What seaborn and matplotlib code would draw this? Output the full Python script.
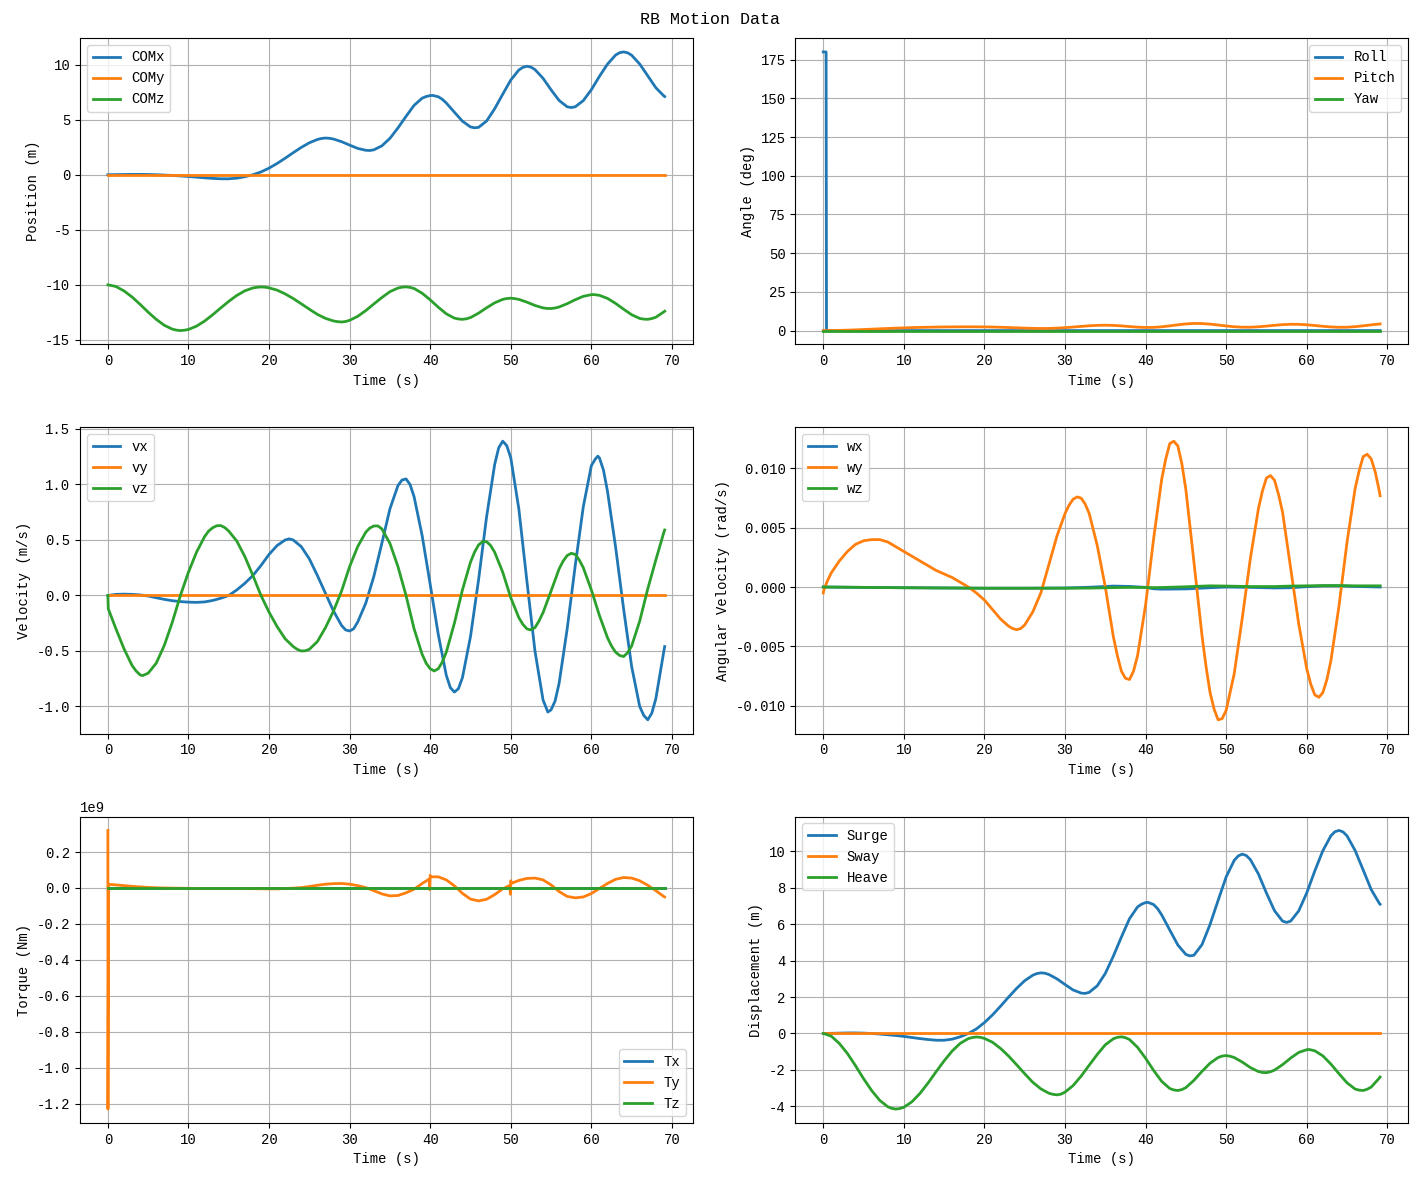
import numpy as np
import pandas as pd
import matplotlib
matplotlib.use("Agg")
import matplotlib.pyplot as plt
import seaborn as sns

# ---------------- data ----------------
# common time base (s)
time_s = np.r_[0.0, 0.05, np.arange(1, 70), 69.1]

com_x = [0, 0, 0.01, 0.02, 0.03, 0.03, 0.02, 0.0, -0.03, -0.07, -0.11, -0.16, -0.22, -0.28,
         -0.33, -0.37, -0.37, -0.31, -0.18, 0.0, 0.25, 0.6, 1.02, 1.5, 2.0, 2.48, 2.9, 3.2,
         3.33, 3.24, 3.0, 2.69, 2.39, 2.22, 2.26, 2.62, 3.3, 4.25, 5.3, 6.3, 6.95, 7.19, 7.08,
         6.51, 5.68, 4.86, 4.34, 4.3, 4.88, 5.99, 7.31, 8.6, 9.51, 9.85, 9.55, 8.76, 7.71,
         6.74, 6.17, 6.17, 6.73, 7.72, 8.93, 10.04, 10.86, 11.15, 10.85, 10.05, 8.98, 7.9,
         7.15, 7.1]
com_x_peak_t = [26.5, 27.5, 32.5, 39.5, 40.3, 41.5, 45.5, 51.5, 52.5, 57.5, 63.5, 64.5]
com_x_peak_v = [3.29, 3.31, 2.2, 7.1, 7.2, 6.85, 4.26, 9.75, 9.77, 6.1, 11.08, 11.07]
com_y = [0.0] * 72
com_z = [-10, -10.0, -10.15, -10.55, -11.1, -11.77, -12.48, -13.13, -13.67, -14.02, -14.15,
         -14.05, -13.75, -13.29, -12.72, -12.1, -11.5, -10.96, -10.54, -10.28, -10.19, -10.27,
         -10.48, -10.82, -11.24, -11.72, -12.21, -12.68, -13.04, -13.28, -13.37, -13.22, -12.86,
         -12.34, -11.74, -11.15, -10.62, -10.29, -10.18, -10.33, -10.76, -11.36, -12.03, -12.63,
         -13.02, -13.13, -12.97, -12.57, -12.08, -11.63, -11.32, -11.21, -11.32, -11.57, -11.87,
         -12.09, -12.15, -12.01, -11.71, -11.35, -11.04, -10.89, -10.95, -11.23, -11.68, -12.21,
         -12.71, -13.05, -13.13, -12.94, -12.45, -12.39]
com_z_peak_t = [8.5, 9.5, 18.5, 19.5, 28.5, 29.5, 36.5, 37.5, 43.5, 44.5, 49.5, 50.5, 54.5,
                55.5, 60.3, 66.5, 67.5]
com_z_peak_v = [-14.11, -14.12, -10.22, -10.21, -13.34, -13.33, -10.21, -10.23, -13.1, -13.08,
                -11.24, -11.25, -12.14, -12.1, -10.88, -13.11, -13.06]

vel_x = [0, 0.0, 0.01, 0.012, 0.01, 0.005, -0.005, -0.02, -0.035, -0.047, -0.055, -0.06, -0.062,
         -0.058, -0.045, -0.025, 0.0, 0.05, 0.11, 0.18, 0.27, 0.37, 0.45, 0.5, 0.5, 0.44, 0.33,
         0.18, 0.02, -0.14, -0.27, -0.32, -0.24, -0.07, 0.17, 0.47, 0.78, 0.99, 1.05, 0.89, 0.54,
         0.1, -0.35, -0.72, -0.87, -0.74, -0.37, 0.14, 0.71, 1.18, 1.39, 1.24, 0.78, 0.13, -0.5,
         -0.94, -1.03, -0.79, -0.3, 0.27, 0.8, 1.17, 1.24, 0.94, 0.44, -0.12, -0.64, -1.0, -1.12,
         -0.93, -0.5, -0.46]
vel_x_peak_t = [22.5, 29.5, 30.5, 36.5, 37.5, 42.5, 43.5, 48.5, 49.5, 54.6, 55.5, 60.5, 60.8,
                61.5, 66.5, 67.5]
vel_x_peak_v = [0.51, -0.31, -0.30, 1.04, 1.0, -0.83, -0.84, 1.33, 1.35, -1.05, -0.95, 1.23,
                1.255, 1.13, -1.08, -1.06]
vel_y = [0.0] * 72
vel_z = [0, -0.12, -0.3, -0.48, -0.63, -0.715, -0.70, -0.61, -0.45, -0.24, 0.0, 0.21, 0.39, 0.53,
         0.61, 0.63, 0.58, 0.49, 0.35, 0.18, 0.0, -0.15, -0.28, -0.39, -0.46, -0.5, -0.485, -0.415,
         -0.29, -0.14, 0.04, 0.26, 0.44, 0.57, 0.626, 0.60, 0.47, 0.26, 0.0, -0.30, -0.53, -0.66,
         -0.66, -0.51, -0.25, 0.05, 0.30, 0.455, 0.485, 0.39, 0.21, -0.02, -0.2, -0.3, -0.29,
         -0.155, 0.04, 0.24, 0.36, 0.37, 0.25, 0.05, -0.18, -0.38, -0.51, -0.55, -0.455, -0.23,
         0.06, 0.32, 0.57, 0.59]
vel_z_peak_t = [3.5, 4.3, 12.5, 13.5, 14.5, 23.5, 24.5, 32.5, 33.5, 39.5, 40.5, 41.5, 45.5,
                46.5, 47.5, 51.5, 52.4, 53.5, 56.5, 57.5, 58.5, 62.5, 63.5, 64.5]
vel_z_peak_v = [-0.68, -0.722, 0.58, 0.628, 0.612, -0.485, -0.498, 0.607, 0.627, -0.61, -0.68,
                -0.6, 0.39, 0.485, 0.45, -0.26, -0.31, -0.23, 0.31, 0.38, 0.32, -0.455, -0.54,
                -0.515]

pitch_deg = [0, 0.0, 0.02, 0.12, 0.27, 0.46, 0.67, 0.90, 1.13, 1.35, 1.56, 1.74, 1.90, 2.04, 2.15,
             2.24, 2.32, 2.37, 2.41, 2.42, 2.40, 2.36, 2.27, 2.14, 1.97, 1.77, 1.58, 1.42, 1.35,
             1.39, 1.57, 1.87, 2.26, 2.69, 3.08, 3.36, 3.46, 3.34, 3.01, 2.59, 2.20, 1.99, 2.06,
             2.44, 3.04, 3.72, 4.30, 4.59, 4.53, 4.16, 3.59, 2.97, 2.46, 2.18, 2.17, 2.43, 2.88,
             3.40, 3.84, 4.06, 4.02, 3.73, 3.28, 2.76, 2.33, 2.11, 2.17, 2.52, 3.07, 3.69, 4.23,
             4.28]
yaw_deg = [0.0] * 72
roll_time = [0.0, 0.35, 0.4, 69.1]
roll_deg = [180.0, 180.0, 0.0, 0.0]

omega_y = [-0.0005, -0.0003, 0.0012, 0.0022, 0.003, 0.0036, 0.0039, 0.004, 0.004, 0.0038, 0.0034,
           0.003, 0.0026, 0.0022, 0.0018, 0.0014, 0.0011, 0.0008, 0.0004, 0.0, -0.0005, -0.0011,
           -0.0019, -0.0027, -0.0033, -0.0036, -0.0032, -0.0021, -0.0005, 0.0019, 0.0043, 0.0062,
           0.0074, 0.0075, 0.0062, 0.0035, 0.0, -0.0042, -0.0071, -0.0078, -0.0058, -0.0015,
           0.0041, 0.0091, 0.0121, 0.0119, 0.0082, 0.0021, -0.0041, -0.0089, -0.0112, -0.0104,
           -0.0073, -0.0026, 0.0024, 0.0066, 0.0092, 0.009, 0.0063, 0.0016, -0.0031, -0.0069,
           -0.0091, -0.0089, -0.0062, -0.0016, 0.0038, 0.0083, 0.011, 0.0108, 0.0081, 0.0077]
omega_y_peak_t = [0.5, 23.5, 24.5, 30.5, 31.5, 32.5, 36.5, 37.5, 38.5, 42.5, 43.5, 44.5, 47.5,
                  48.5, 49.5, 54.5, 55.5, 56.5, 60.5, 61.5, 62.5, 66.5, 67.5, 68.5]
omega_y_peak_v = [0.0005, -0.0035, -0.0035, 0.0069, 0.0076, 0.0070, -0.0058, -0.0077, -0.0071,
                  0.0108, 0.0123, 0.0104, -0.0067, -0.0103, -0.0111, 0.0081, 0.0094, 0.0078,
                  -0.0082, -0.0093, -0.0078, 0.0098, 0.0112, 0.0097]
omega_small_time = [0, 5, 10, 15, 20, 25, 30, 33, 36, 38, 40, 41, 42, 45, 48, 50, 53, 56, 58, 60,
                    62, 64, 66, 69.1]
omega_x = [0, -0.00003, -0.00006, -0.00008, -0.0001, -0.0001, -0.00008, -0.00002, 0.00008,
           0.00005, -0.00003, -0.00015, -0.00018, -0.00016, -0.00006, 0.0, -0.00003, -0.00008,
           -0.00006, 0.00003, 0.0001, 0.0001, 0.00005, 0.0]
omega_z = [0, -0.00003, -0.00006, -0.00008, -0.0001, -0.0001, -0.0001, -0.00009, -0.00005,
           -0.00003, -0.00004, -0.00005, -0.00004, 0.00002, 0.0001, 0.00008, 0.00004, 0.00004,
           0.00008, 0.0001, 0.00012, 0.00012, 0.0001, 0.0001]

torque_time = [0, 0.01, 0.1, 1, 2, 3, 4, 5, 6, 7, 8, 10, 12, 14, 16, 18, 20, 21, 22, 23, 24, 25,
               26, 27, 28, 29, 30, 31, 32, 33, 34, 35, 36, 37, 38, 39, 39.9, 39.95, 40.0, 40.1,
               41, 42, 43, 44, 45, 46, 47, 48, 49, 49.9, 49.95, 50.0, 50.1, 51, 52, 53, 54, 55,
               56, 57, 58, 59, 60, 61, 62, 63, 64, 65, 66, 67, 68, 69, 69.1]
torque_y_1e9 = [0.32, -1.23, 0.02, 0.017, 0.013, 0.009, 0.006, 0.003, 0.001, 0.0, -0.001, -0.002,
                -0.003, -0.003, -0.003, -0.004, -0.005, -0.005, -0.003, -0.001, 0.002, 0.008,
                0.015, 0.021, 0.024, 0.025, 0.021, 0.013, 0.002, -0.015, -0.033, -0.044, -0.042,
                -0.027, -0.007, 0.025, 0.05, -0.01, 0.07, 0.062, 0.062, 0.045, 0.012, -0.03,
                -0.062, -0.072, -0.063, -0.037, -0.005, 0.015, -0.035, 0.04, 0.026, 0.042, 0.053,
                0.055, 0.045, 0.017, -0.02, -0.047, -0.055, -0.05, -0.031, -0.003, 0.025, 0.048,
                0.058, 0.055, 0.04, 0.015, -0.015, -0.048, -0.05]
torque_x_1e9 = [0.0] * len(torque_time)
torque_z_1e9 = [0.0] * len(torque_time)


def merged(base_t, base_v, extra_t, extra_v):
    """Combine the regular samples with the extra samples read at the extrema."""
    t = np.concatenate([np.asarray(base_t, float), np.asarray(extra_t, float)])
    v = np.concatenate([np.asarray(base_v, float), np.asarray(extra_v, float)])
    order = np.argsort(t, kind="stable")
    return t[order], v[order]


cx_t, cx_v = merged(time_s, com_x, com_x_peak_t, com_x_peak_v)
cz_t, cz_v = merged(time_s, com_z, com_z_peak_t, com_z_peak_v)
vx_t, vx_v = merged(time_s, vel_x, vel_x_peak_t, vel_x_peak_v)
vz_t, vz_v = merged(time_s, vel_z, vel_z_peak_t, vel_z_peak_v)
wy_t, wy_v = merged(time_s, omega_y, omega_y_peak_t, omega_y_peak_v)

# displacement relative to the initial position
surge = cx_v - cx_v[0]
sway = np.array(com_y) - com_y[0]
heave = cz_v - cz_v[0]

# ---------------- style ----------------
plt.rcParams["font.family"] = ["Liberation Mono", "DejaVu Sans"]
plt.rcParams["font.size"] = 10
plt.rcParams["axes.unicode_minus"] = False

colors = sns.color_palette("tab10", 3)

fig, axes = plt.subplots(3, 2, figsize=(14.19, 11.8), dpi=100)
fig.subplots_adjust(left=0.0564, right=0.9922, top=0.9678, bottom=0.0483,
                    wspace=0.168, hspace=0.27)
fig.suptitle("RB Motion Data", fontsize=12, y=0.99)


def draw(ax, series, ylabel, loc):
    for (x, y, lab), c in zip(series, colors):
        sns.lineplot(x=np.asarray(x, dtype=float), y=np.asarray(y, dtype=float), ax=ax,
                     label=lab, color=c, linewidth=2, estimator=None, sort=False)
    ax.set_xlabel("Time (s)")
    ax.set_ylabel(ylabel)
    ax.grid(True, color="#b0b0b0", linewidth=0.8)
    ax.legend(loc=loc)
    ax.tick_params(direction="out")


draw(axes[0, 0], [(cx_t, cx_v, "COMx"), (time_s, com_y, "COMy"), (cz_t, cz_v, "COMz")],
     "Position (m)", "upper left")
draw(axes[0, 1], [(roll_time, roll_deg, "Roll"), (time_s, pitch_deg, "Pitch"),
                  (time_s, yaw_deg, "Yaw")], "Angle (deg)", "upper right")
draw(axes[1, 0], [(vx_t, vx_v, "vx"), (time_s, vel_y, "vy"), (vz_t, vz_v, "vz")],
     "Velocity (m/s)", "upper left")
draw(axes[1, 1], [(omega_small_time, omega_x, "wx"), (wy_t, wy_v, "wy"),
                  (omega_small_time, omega_z, "wz")], "Angular Velocity (rad/s)", "upper left")
draw(axes[2, 0], [(torque_time, np.array(torque_x_1e9) * 1e9, "Tx"),
                  (torque_time, np.array(torque_y_1e9) * 1e9, "Ty"),
                  (torque_time, np.array(torque_z_1e9) * 1e9, "Tz")], "Torque (Nm)", "lower right")
draw(axes[2, 1], [(cx_t, surge, "Surge"), (time_s, sway, "Sway"), (cz_t, heave, "Heave")],
     "Displacement (m)", "upper left")

axes[1, 0].set_yticks([-1.0, -0.5, 0.0, 0.5, 1.0, 1.5])

fig.savefig("out.png", dpi=100)
